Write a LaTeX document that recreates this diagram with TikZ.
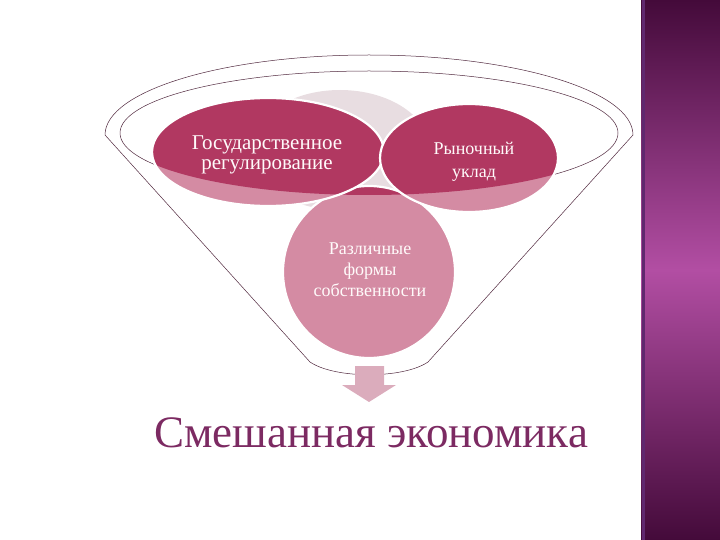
\documentclass[tikz,border=0pt]{standalone}
\usepackage{fontspec}
\setmainfont{Liberation Serif}
\newfontfamily\timesru{Liberation Serif}
\usetikzlibrary{shapes.geometric}

\definecolor{darkpink}{RGB}{177,56,97}
\definecolor{litepink}{RGB}{212,139,163}
\definecolor{backgrey}{RGB}{232,221,225}
\definecolor{arrowpink}{RGB}{219,172,188}
\definecolor{rimline}{RGB}{80,40,62}
\definecolor{mixtext}{RGB}{124,42,98}
\definecolor{bandtop}{RGB}{68,10,58}
\definecolor{bandmid}{RGB}{178,78,163}
\definecolor{bandedge}{RGB}{96,40,110}

% one bowl: light outside the rim, dark inside it
\newcommand\bowlpart[4]{%
  \fill[litepink] (#1,#2) ellipse [x radius=#3, y radius=#4];
  \begin{scope}
    \clip (369,133) ellipse [x radius=249, y radius=62];
    \fill[darkpink] (#1,#2) ellipse [x radius=#3, y radius=#4];
  \end{scope}
  \draw[white, line width=2.2pt] (#1,#2) ellipse [x radius=#3, y radius=#4];}

\tikzset{
  rim/.style={rimline, line width=0.5pt},
  lbl/.style={text=white!92!pink, align=center, inner sep=0pt}
}

\begin{document}
\begin{tikzpicture}[x=1pt, y=-1pt]
  \useasboundingbox (0,0) rectangle (720,540);

  % band on the right
  \shade[top color=bandtop, bottom color=bandtop, middle color=bandmid] (641,0) rectangle (720,540);
  \fill[bandedge] (642,0) rectangle (645,540);

  % funnel
  \draw[rim] (105,135) -- (310,362) .. controls (335,379) and (403,379) .. (428,362) -- (633,135)
    arc[start angle=0, end angle=-180, x radius=264, y radius=80];
  \draw[rim] (369,133) ellipse [x radius=249, y radius=62];

  % bowls
  \fill[backgrey] (340,150) ellipse [x radius=90, y radius=60];
  \bowlpart{369}{272}{86}{86}
  \bowlpart{268}{152}{116}{54}
  \bowlpart{469}{158}{89}{54}

  \node[lbl, font=\timesru\fontsize{21}{20}\selectfont] (gos) at (267,155) {Государственное\\регулирование};
  \node[lbl, font=\timesru\fontsize{18}{23}\selectfont] (ryn) at (474,162) {Рыночный\\уклад};
  \node[lbl, font=\timesru\fontsize{18}{21}\selectfont] (raz) at (370,270) {Различные\\формы\\собственности};

  % arrow down
  \fill[arrowpink] (355,366) -- (384,366) -- (384,385) -- (396,385) -- (369,402)
    -- (342,385) -- (355,385) -- cycle;

  \node[text=mixtext, font=\timesru\fontsize{45}{45}\selectfont, anchor=base] (mix) at (371,447) {Смешанная экономика};
\end{tikzpicture}
\end{document}
